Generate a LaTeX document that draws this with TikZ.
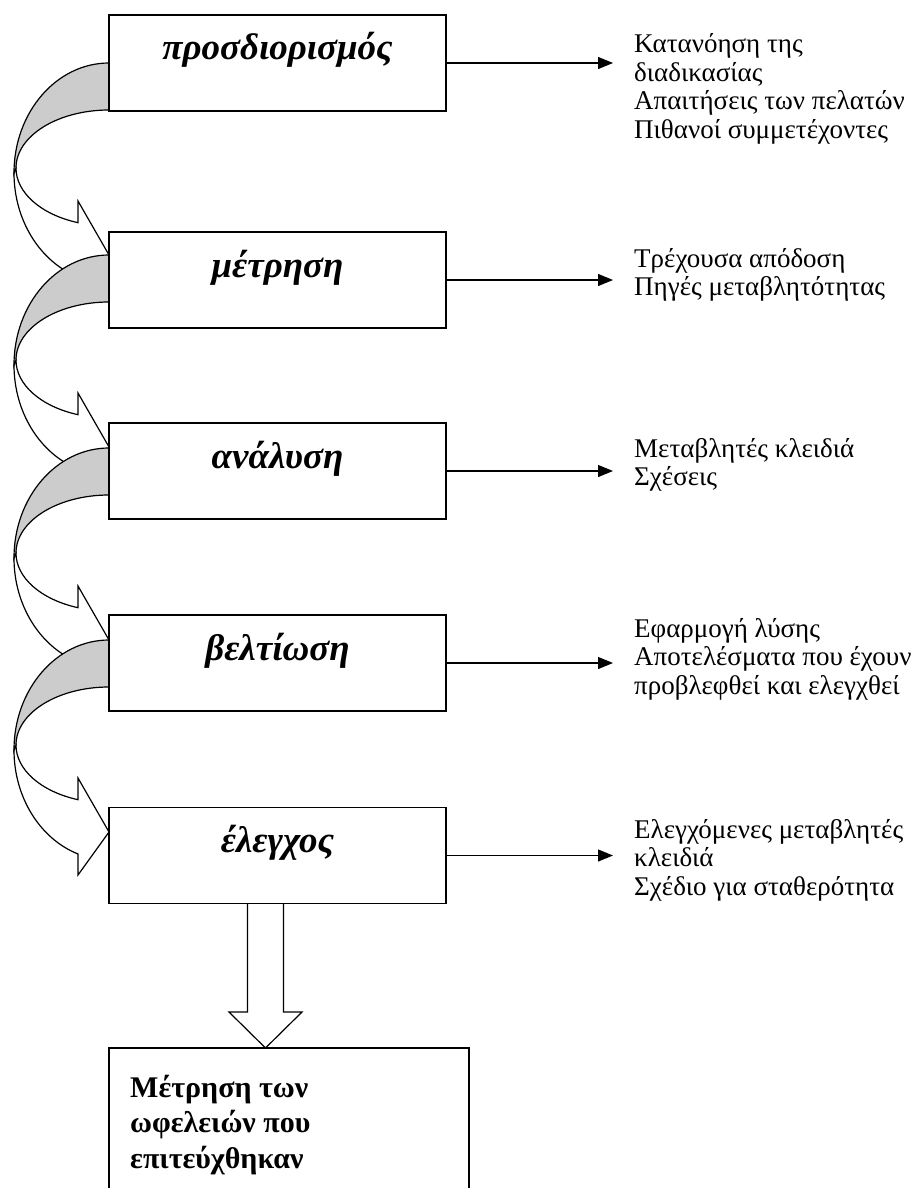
\documentclass[tikz,border=0pt]{standalone}
\usepackage{fontspec}
\setmainfont{Liberation Serif}
\usetikzlibrary{arrows.meta,calc}
\definecolor{bandgray}{RGB}{204,204,204}
\tikzset{
  stage/.style={draw, line width=1.6pt, fill=white, minimum width=337pt,
    inner sep=0pt, text height=45pt, text depth=51pt,
    font=\fontsize{37}{42}\selectfont\bfseries\itshape},
  note/.style={anchor=base west, inner sep=0pt,
    font=\fontsize{27}{28.5}\selectfont},
  link/.style={line width=1.2pt, -{Triangle[length=15pt,width=12pt]}},
  frontband/.style={fill=white, draw, line width=1.2pt, line join=miter},
  backband/.style={fill=bandgray, draw, line width=1.2pt, line join=miter},
  % curved block arrow: tail on the left edge of one box, head on the next
  turn arrow/.pic={
    \path[frontband] (-95,110)
      arc[start angle=180, end angle=109.05, x radius=95, y radius=110]
      -- (-31,235) -- (0,192) -- (-31,138) -- (-31,159.7)
      arc[start angle=109.46, end angle=180, x radius=93, y radius=58]
      -- cycle;
    \path[backband] (0,0)
      arc[start angle=270, end angle=180, x radius=95, y radius=110]
      -- (-93,105)
      arc[start angle=180, end angle=270, x radius=93, y radius=58]
      -- cycle;
  }
}
\begin{document}
\begin{tikzpicture}[x=1pt,y=-1pt]
\useasboundingbox (0,0) rectangle (912,1188);

% loop of curved arrows along the left side
\pic at (109,63) {turn arrow};
\pic at (109,255) {turn arrow};
\pic at (109,448) {turn arrow};
\pic at (109,640) {turn arrow};

% block arrow down to the result box
\coordinate (dtop) at (265.5,903);
\coordinate (dtip) at (265.5,1048);
\path[frontband] ($(dtop)+(-18,0)$) -- ($(dtop)+(-18,109)$)
  -- ($(dtop)+(-36.5,109)$) -- (dtip) -- ($(dtop)+(36.5,109)$)
  -- ($(dtop)+(18,109)$) -- ($(dtop)+(18,0)$);

% the five stages
\node[stage] (b1) at (277.5,63)    {προσδιορισμός};
\node[stage] (b2) at (277.5,280)   {μέτρηση};
\node[stage] (b3) at (277.5,471)   {ανάλυση};
\node[stage] (b4) at (277.5,663)   {βελτίωση};
\node[stage] (b5) at (277.5,855.5) {έλεγχος};

% outputs of each stage
\coordinate (o1) at (613,63);
\coordinate (o2) at (613,280);
\coordinate (o3) at (613,471);
\coordinate (o4) at (613,663);
\coordinate (o5) at (613,855.5);
\draw[link] (b1.east) -- (o1);
\draw[link] (b2.east) -- (o2);
\draw[link] (b3.east) -- (o3);
\draw[link] (b4.east) -- (o4);
\draw[link] (b5.east) -- (o5);

\node[note] (t1) at (634,53) {\parbox[t]{278pt}{\raggedright
  Κατανόηση της\\διαδικασίας\\Απαιτήσεις των πελατών\\Πιθανοί συμμετέχοντες}};
\node[note] (t2) at (634,267) {\parbox[t]{278pt}{\raggedright
  Τρέχουσα απόδοση\\Πηγές μεταβλητότητας}};
\node[note] (t3) at (634,457) {\parbox[t]{278pt}{\raggedright
  Μεταβλητές κλειδιά\\Σχέσεις}};
\node[note] (t4) at (634,637) {\parbox[t]{278pt}{\raggedright
  Εφαρμογή λύσης\\Αποτελέσματα που έχουν\\προβλεφθεί και ελεγχθεί}};
\node[note] (t5) at (634,838) {\parbox[t]{278pt}{\raggedright
  Ελεγχόμενες μεταβλητές\\κλειδιά\\Σχέδιο για σταθερότητα}};

% final result box, running off the bottom edge
\node[draw, line width=1.6pt, fill=white, minimum width=360pt,
  minimum height=170pt, inner sep=0pt] (b6) at (289,1133) {};
\node[anchor=base west, inner sep=0pt,
  font=\fontsize{30}{35.5}\selectfont\bfseries] (t6) at (130,1097)
  {\parbox[t]{330pt}{\raggedright Μέτρηση των\\ωφελειών που\\επιτεύχθηκαν}};
\end{tikzpicture}
\end{document}
